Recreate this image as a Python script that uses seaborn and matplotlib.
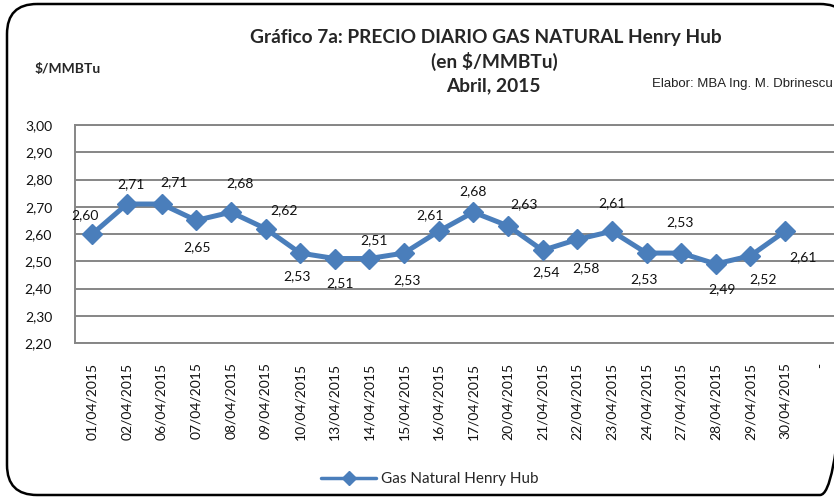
import matplotlib
matplotlib.use("Agg")
import matplotlib.pyplot as plt
import seaborn as sns
import numpy as np
from matplotlib.patches import FancyBboxPatch
from matplotlib.ticker import FuncFormatter, FixedLocator

# ---------------- data ----------------
dates = ["01/04/2015", "02/04/2015", "06/04/2015", "07/04/2015", "08/04/2015",
         "09/04/2015", "10/04/2015", "13/04/2015", "14/04/2015", "15/04/2015",
         "16/04/2015", "17/04/2015", "20/04/2015", "21/04/2015", "22/04/2015",
         "23/04/2015", "24/04/2015", "27/04/2015", "28/04/2015", "29/04/2015",
         "30/04/2015"]
prices = [2.60, 2.71, 2.71, 2.65, 2.68, 2.62, 2.53, 2.51, 2.51, 2.53, 2.61,
          2.68, 2.63, 2.54, 2.58, 2.61, 2.53, 2.53, 2.49, 2.52, 2.61]
extra_label = "-"
y_ticks = [2.20, 2.30, 2.40, 2.50, 2.60, 2.70, 2.80, 2.90, 3.00]
series_name = "Gas Natural Henry Hub"

# label offsets (pixels, x right / y up) -- styling only
label_offsets = [(-7, 19), (4, 20), (12, 22), (1, -27), (9, 29), (19, 18),
                 (-3, -23), (5, -25), (5, 18), (3, -27), (-9, 16), (0, 21),
                 (16, 22), (3, -22), (9, -29), (0, 28), (-3, -26), (-1, 31),
                 (6, -25), (13, -23), (18, -26)]

# ---------------- style ----------------
sns.set_style("white")
plt.rcParams["font.family"] = ["Lato", "DejaVu Sans"]
LINE = "#4A7EBB"
GRID = "#868686"

W, H = 834, 500
fig = plt.figure(figsize=(W / 100, H / 100), dpi=100)

left, right, top, bottom = 75, 837, 125, 343
ax = fig.add_axes([left / W, 1 - bottom / H, (right - left) / W, (bottom - top) / H])

sns.lineplot(x=dates, y=prices, ax=ax, sort=False, color=LINE, linewidth=3.6,
             marker="D", markersize=10.5, markeredgecolor=LINE, markeredgewidth=1,
             label=series_name, zorder=5)

ax.set_ylim(y_ticks[0], y_ticks[-1])
ax.yaxis.set_major_locator(FixedLocator(y_ticks))
ax.yaxis.set_major_formatter(FuncFormatter(lambda v, _: f"{v:.2f}".replace(".", ",")))
ax.set_xticks(range(len(dates) + 1))
ax.set_xticklabels(dates + [extra_label], rotation=90)
ax.set_xlim(-0.5, len(dates) + 0.5)

ax.grid(axis="y", color=GRID, linewidth=1.4)
ax.grid(axis="x", visible=False)
for s in ["left", "top", "bottom"]:
    ax.spines[s].set_color(GRID)
    ax.spines[s].set_linewidth(1.4)
ax.spines["right"].set_visible(False)
ax.tick_params(axis="y", length=0, pad=16.5, labelsize=10, labelcolor="#111111")
ax.tick_params(axis="x", length=0, pad=14, labelsize=10, labelcolor="#111111")
ax.set_xlabel("")
ax.set_ylabel("")

for d, v, off in zip(dates, prices, label_offsets):
    ax.annotate(f"{v:.2f}".replace(".", ","), xy=(d, v), xytext=off,
                textcoords="offset pixels", ha="center", va="center",
                fontsize=10, color="#111111", zorder=6)

# legend
leg = ax.legend(loc="center", bbox_to_anchor=(430 / W, 1 - 479 / H),
                bbox_transform=fig.transFigure, frameon=False, fontsize=11,
                handlelength=3.6, handletextpad=0.3)
for ln in leg.get_lines():
    ln.set_linewidth(2.5)
    ln.set_markersize(7)

# rounded outer border, drawn on a full-figure overlay axes whose right part
# runs past the image edge
bax = fig.add_axes([0, 0, 1, 1], facecolor="none", zorder=10)
bax.set_xlim(0, W)
bax.set_ylim(H, 0)
bax.axis("off")
border = FancyBboxPatch((7, 4), 843, 491,
                        boxstyle="round,pad=0,rounding_size=30",
                        fill=False, edgecolor="black", linewidth=1.8,
                        clip_on=False)
bax.add_patch(border)

# titles
fig.text(486 / W, 1 - 37 / H, "Gráfico 7a: PRECIO DIARIO GAS NATURAL Henry Hub",
         ha="center", va="center", fontsize=13.8, fontweight="bold")
fig.text(494 / W, 1 - 61 / H, "(en $/MMBTu)", ha="center", va="center",
         fontsize=13.8, fontweight="bold")
fig.text(493 / W, 1 - 86 / H, "Abril, 2015", ha="center", va="center",
         fontsize=13.8, fontweight="bold")
fig.text(35 / W, 1 - 69 / H, "$/MMBTu", ha="left", va="center",
         fontsize=10, fontweight="bold")
fig.text(652 / W, 1 - 84 / H, "Elabor: MBA Ing. M. Dbrinescu", ha="left",
         va="center", fontsize=9.5, color="#222222",
         family=["Liberation Sans Narrow", "Liberation Sans", "DejaVu Sans"])

fig.savefig("out.png", dpi=100)
